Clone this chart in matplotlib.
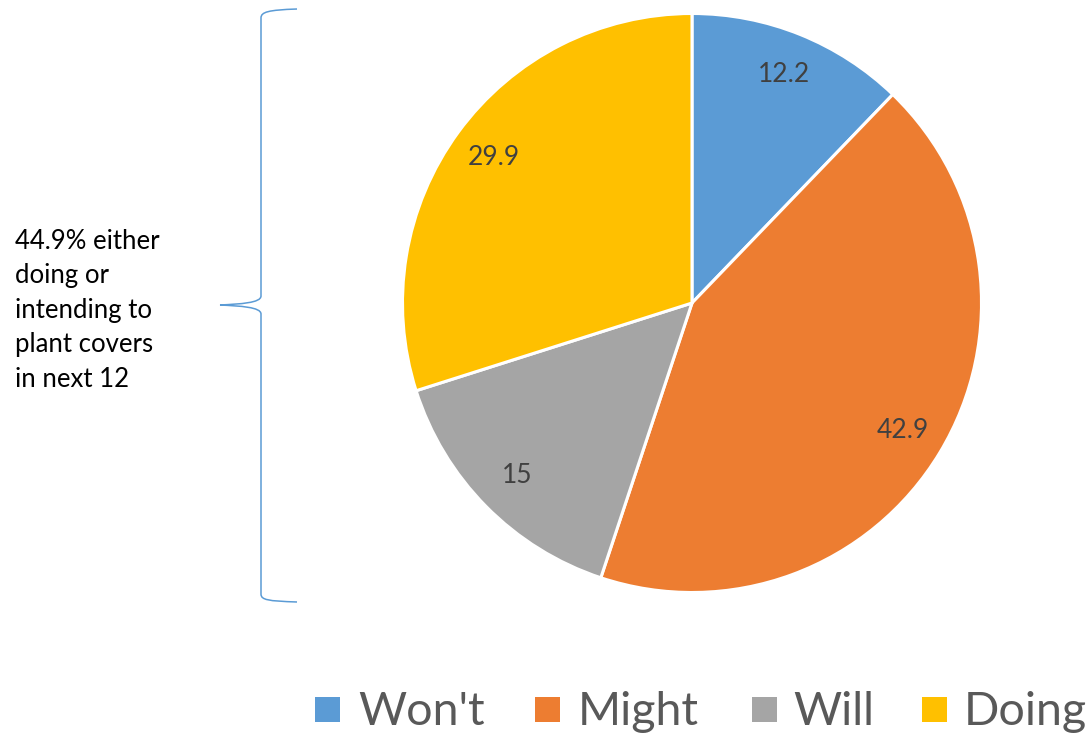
import matplotlib
matplotlib.use("Agg")
import matplotlib.pyplot as plt
from matplotlib.path import Path
from matplotlib.patches import PathPatch, Rectangle

categories = ["Won't", "Might", "Will", "Doing"]
values = [12.2, 42.9, 15, 29.9]
value_labels = ["12.2", "42.9", "15", "29.9"]
colors = ["#5B9BD5", "#ED7D31", "#A5A5A5", "#FFC000"]
note = "44.9% either\ndoing or\nintending to\nplant covers\nin next 12"

plt.rcParams['font.family'] = ['Lato', 'DejaVu Sans']

W, H = 1090, 734
fig = plt.figure(figsize=(W / 100, H / 100), dpi=100)
ax = fig.add_axes([0, 0, 1, 1])
ax.set_xlim(0, W)
ax.set_ylim(0, H)
ax.set_aspect('equal')
ax.axis('off')

wedges, texts = ax.pie(values, labels=value_labels, colors=colors, startangle=90,
                       counterclock=False, center=(692, H - 303), radius=289.5,
                       labeldistance=0.85, frame=True,
                       wedgeprops=dict(edgecolor='white', linewidth=2.2),
                       textprops=dict(fontsize=19, color='#404040'))
for t in texts:
    t.set_ha('center')
    t.set_va('center')
ax.set_xlim(0, W)
ax.set_ylim(0, H)
ax.axis('off')

# curly brace
def Y(y):
    return H - y
verts = [(297, Y(9)), (268, Y(10)), (261, Y(12)), (261, Y(18)),
         (261, Y(296)),
         (261, Y(303)), (240, Y(304)), (220, Y(305)),
         (240, Y(306)), (261, Y(307)), (261, Y(314)),
         (261, Y(594)),
         (261, Y(600)), (268, Y(601)), (297, Y(602))]
codes = [Path.MOVETO, Path.CURVE4, Path.CURVE4, Path.CURVE4,
         Path.LINETO,
         Path.CURVE4, Path.CURVE4, Path.CURVE4,
         Path.CURVE4, Path.CURVE4, Path.CURVE4,
         Path.LINETO,
         Path.CURVE4, Path.CURVE4, Path.CURVE4]
ax.add_patch(PathPatch(Path(verts, codes), facecolor='none', edgecolor='#5B9BD5', lw=1.1))

ax.text(15, Y(229), note, fontsize=18.5, color='black', ha='left', va='top', linespacing=1.47)

# legend
sq_x = [315, 535, 752, 922]
tx_x = [358, 578, 793, 964]
for c, col, sx, tx in zip(categories, colors, sq_x, tx_x):
    ax.add_patch(Rectangle((sx, Y(722)), 25, 25, facecolor=col, edgecolor='none'))
    ax.text(tx, Y(725), c, fontsize=33.5, color='#595959', ha='left', va='baseline')

fig.savefig("out.png", dpi=100)
